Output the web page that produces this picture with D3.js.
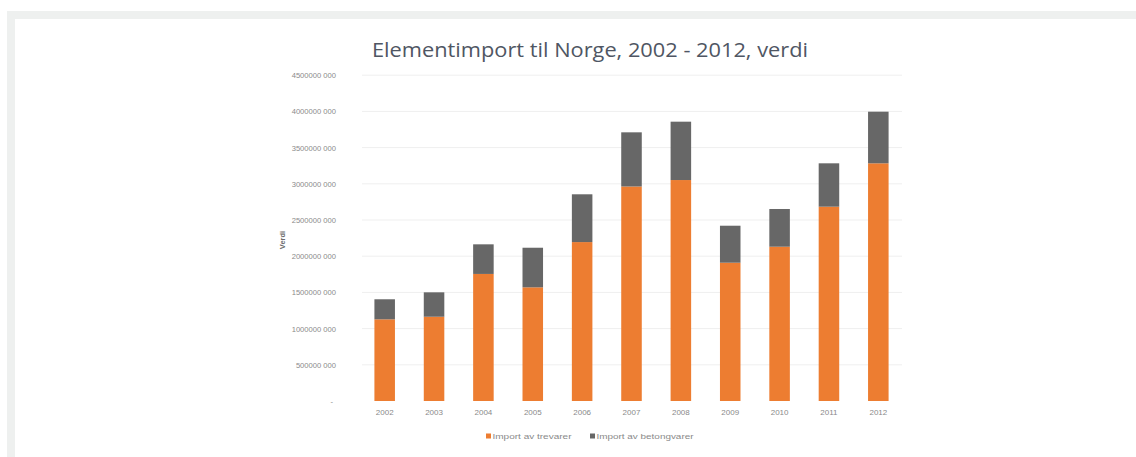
<!DOCTYPE html>
<html>
<head>
<meta charset="utf-8">
<script src="https://cdn.jsdelivr.net/npm/d3@7"></script>
<style>
  html, body { margin: 0; padding: 0; background: #ffffff; }
  svg { display: block; }
</style>
</head>
<body>
<svg id="chart" width="1136" height="457"></svg>
<script>
// ---- data ----
const years = ["2002","2003","2004","2005","2006","2007","2008","2009","2010","2011","2012"];
const trevarer = [1128000000,1164000000,1755000000,1570000000,2195000000,2963000000,3052000000,1910000000,2131000000,2684000000,3283000000];
const betongvarer = [277000000,337000000,409000000,547000000,660000000,748000000,806000000,511000000,521000000,599000000,713000000];
const seriesNames = ["Import av trevarer","Import av betongvarer"];
const tickValues = [0,500000000,1000000000,1500000000,2000000000,2500000000,3000000000,3500000000,4000000000,4500000000];
const tickLabels = ["-","500000 000","1000000 000","1500000 000","2000000 000","2500000 000","3000000 000","3500000 000","4000000 000","4500000 000"];
const titleText = "Elementimport til Norge, 2002 - 2012, verdi";
const yTitle = "Verdi";
const colors = ["#ED7D31","#676767"];

const svg = d3.select("#chart");
const font = "'Liberation Sans', Arial, sans-serif";

// page frame
svg.append("rect").attr("x",7).attr("y",11).attr("width",1136).attr("height",457).attr("fill","#eef0ef");
svg.append("rect").attr("x",15).attr("y",19).attr("width",1136).attr("height",457).attr("fill","#ffffff");

// scales
const x = d3.scaleBand().domain(years).range([360, 903]).paddingInner(0.584).paddingOuter(0.292);
const y = d3.scaleLinear().domain([0, 4500000000]).range([401, 75.2]);

// gridlines
svg.append("g").selectAll("line").data(tickValues.slice(1)).join("line")
  .attr("x1", 362).attr("x2", 902)
  .attr("y1", d => y(d)).attr("y2", d => y(d))
  .attr("stroke", "#efefef").attr("stroke-width", 1);

// y axis (labels only)
const yAxis = d3.axisLeft(y).tickValues(tickValues).tickSize(0).tickPadding(0)
  .tickFormat((d,i) => tickLabels[i]);
const gy = svg.append("g").attr("transform","translate(336,0)").call(yAxis);
gy.select(".domain").remove();
gy.selectAll("text").attr("font-family", font).attr("font-size", 7.6).attr("fill", "#8a8a8a");
gy.selectAll(".tick").filter((d,i) => i === 0).select("text").attr("dx", -3);

// stacked data
const rows = years.map((yr,i) => ({year: yr, a: trevarer[i], b: betongvarer[i]}));
const stack = d3.stack().keys(["a","b"])(rows);

svg.append("g").selectAll("g").data(stack).join("g")
  .attr("fill", (d,i) => colors[i])
  .selectAll("rect").data(d => d).join("rect")
  .attr("x", d => x(d.data.year))
  .attr("width", x.bandwidth())
  .attr("y", d => y(d[1]))
  .attr("height", d => y(d[0]) - y(d[1]));

// x axis
const xAxis = d3.axisBottom(x).tickSize(0).tickPadding(0);
const gx = svg.append("g").attr("transform","translate(0,409)").call(xAxis);
gx.select(".domain").remove();
gx.selectAll("text").attr("font-family", font).attr("font-size", 8).attr("fill", "#8a8a8a");

// title
svg.append("text").attr("x", 590).attr("y", 57).attr("text-anchor","middle")
  .attr("font-family", "'Open Sans', " + font).attr("font-size", 19.5).attr("fill", "#4f5663")
  .attr("textLength", 436).attr("lengthAdjust","spacingAndGlyphs")
  .text(titleText);

// y title
svg.append("text").attr("transform","translate(285,240) rotate(-90)").attr("text-anchor","middle")
  .attr("font-family", font).attr("font-size", 7.5).attr("fill", "#6a6a6a").attr("font-weight","bold")
  .text(yTitle);

// legend
const legendX = [486, 590];
const lg = svg.append("g").selectAll("g").data(seriesNames).join("g")
  .attr("transform", (d,i) => `translate(${legendX[i]},436)`);
lg.append("rect").attr("x",0).attr("y",-2.5).attr("width",5).attr("height",5).attr("fill",(d,i)=>colors[i]);
lg.append("text").attr("x",6.5).attr("y",2.6).attr("font-family",font).attr("font-size",7).attr("fill","#8a8a8a")
  .attr("textLength",(d,i)=> i===0 ? 79 : 97).attr("lengthAdjust","spacingAndGlyphs")
  .text(d => d);
</script>
</body>
</html>
